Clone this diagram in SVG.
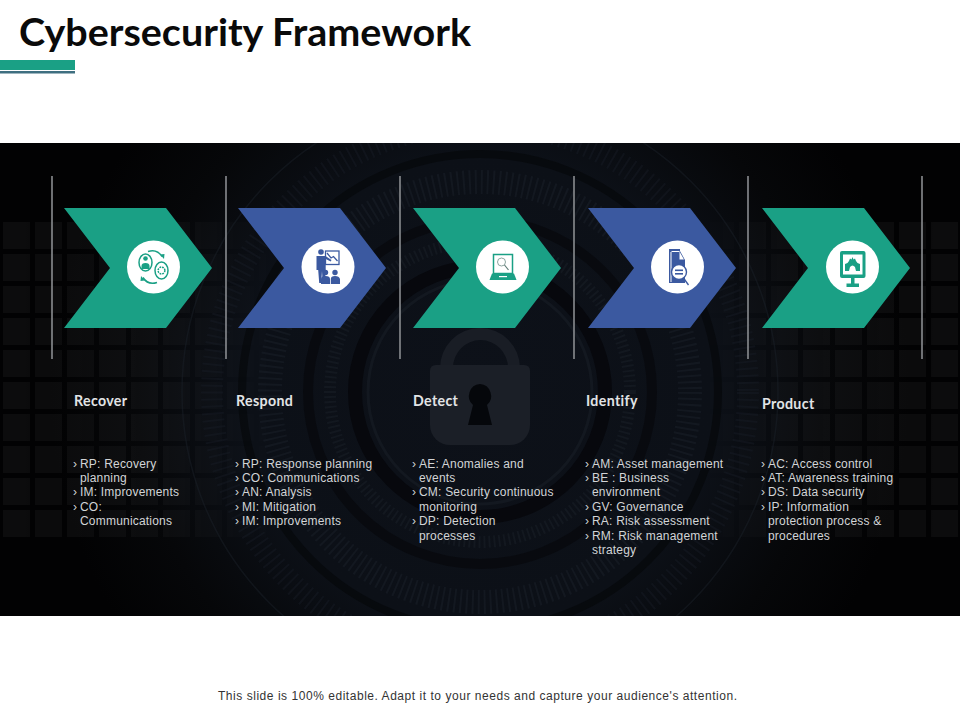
<svg xmlns="http://www.w3.org/2000/svg" width="960" height="720" viewBox="0 0 960 720">
<style>
.h{font:700 14.2px Lato,"Open Sans",sans-serif;fill:#e2e4e6;letter-spacing:.35px}
.b{font:12px "Liberation Sans",Arial,sans-serif;fill:#d2d4d6;letter-spacing:.2px}
.v{stroke:#8a8c90;stroke-width:1.6}
.g{fill:#1aa085}.n{fill:#3b59a0}.c{fill:#fff}
.ig{fill:#1aa085;stroke:none}.in{fill:#3b59a0;stroke:none}
.lg{fill:none;stroke:#1aa085;stroke-width:1.5}.ln{fill:none;stroke:#3b59a0;stroke-width:1.3}
.r{fill:none;stroke:#1a1f28}
</style>
<defs>
<radialGradient id="bg" gradientUnits="userSpaceOnUse" cx="480" cy="390" r="430">
<stop offset="0" stop-color="#0d1119"/><stop offset=".55" stop-color="#0c1017"/><stop offset=".8" stop-color="#060709"/><stop offset="1" stop-color="#020203"/>
</radialGradient>
<pattern id="grid" patternUnits="userSpaceOnUse" x="3" y="222" width="32" height="32">
<rect x="0" y="0" width="27" height="27" fill="#fff" fill-opacity=".045"/>
</pattern>
<linearGradient id="fl" x1="0" x2="1"><stop offset="0" stop-color="#fff"/><stop offset=".55" stop-color="#bbb"/><stop offset="1" stop-color="#000"/></linearGradient>
<linearGradient id="fr" x1="0" x2="1"><stop offset="0" stop-color="#000"/><stop offset=".4" stop-color="#bbb"/><stop offset="1" stop-color="#fff"/></linearGradient>
<mask id="ml"><rect x="0" y="143" width="290" height="473" fill="url(#fl)"/></mask>
<mask id="mr"><rect x="690" y="143" width="270" height="473" fill="url(#fr)"/></mask>
<clipPath id="cb"><rect x="0" y="143" width="960" height="473"/></clipPath>
<polygon id="chev" points="0,0 102,0 148,60 102,120 0,120 46,60"/>
</defs>
<rect width="960" height="720" fill="#fff"/>
<text x="19" y="46" font-family="Lato,'Open Sans',sans-serif" font-weight="700" font-size="38" fill="#0a0a0a" textLength="452" lengthAdjust="spacingAndGlyphs">Cybersecurity Framework</text>
<rect x="0" y="60" width="75" height="10" fill="#1aa085"/>
<rect x="0" y="71" width="75" height="2.5" fill="#3f6f80"/>
<g id="background" clip-path="url(#cb)">
<rect x="0" y="143" width="960" height="473" fill="url(#bg)"/>
<rect x="0" y="222" width="290" height="320" fill="url(#grid)" mask="url(#ml)"/>
<rect x="690" y="222" width="270" height="320" fill="url(#grid)" mask="url(#mr)"/>
<circle cx="480" cy="392" r="125" fill="none" stroke="#050609" stroke-width="14" opacity=".75"/>
<circle class="r" cx="480" cy="392" r="112" stroke-width="3" opacity=".5"/>
<circle class="r" cx="480" cy="392" r="150" stroke-width="12" stroke-dasharray="2 3" opacity=".5"/>
<circle cx="480" cy="392" r="172" fill="none" stroke="#06070a" stroke-width="10" opacity=".6"/>
<circle class="r" cx="480" cy="392" r="210" stroke-width="24" stroke-dasharray="2 4" opacity=".55"/>
<circle cx="480" cy="392" r="238" fill="none" stroke="#050608" stroke-width="8" opacity=".6"/>
<circle class="r" cx="480" cy="392" r="268" stroke-width="22" stroke-dasharray="2 5" opacity=".4"/>
<circle class="r" cx="480" cy="392" r="298" stroke-width="1.5" opacity=".5"/>
<g id="lock">
<path d="M440 370V368a40 40 0 0 1 80 0V370H508V368a27.500 28 0 0 0-55 0V370Z" fill="#191d25"/>
<path d="M436 365H524q6 0 6 6V425a20 20 0 0 1-20 20H450a20 20 0 0 1-20-20V371q0-6 6-6Z" fill="#1b1f27"/>
<path d="M480 384a12 12 0 0 1 7 21l5 20H468l5-20a12 12 0 0 1 7-21Z" fill="#05070b"/>
</g>
</g>
<g id="connectors">
<line class="v" x1="52" y1="176" x2="52" y2="359"/>
<line class="v" x1="226" y1="176" x2="226" y2="359"/>
<line class="v" x1="400" y1="176" x2="400" y2="359"/>
<line class="v" x1="574" y1="176" x2="574" y2="359"/>
<line class="v" x1="748" y1="176" x2="748" y2="359"/>
<line class="v" x1="922" y1="176" x2="922" y2="359"/>
</g>
<g id="node-recover">
<use href="#chev" x="64" y="208" class="g"/>
<circle class="c" cx="153.500" cy="267" r="26.500"/>
<ellipse class="lg" cx="145.500" cy="262.500" rx="6.500" ry="8.500" stroke-width="1.300"/>
<circle class="ig" cx="145.500" cy="258.500" r="2.300"/>
<path class="ig" d="M141.500 269v-3q0-3 4-3t4 3v3Z"/>
<ellipse class="lg" cx="161.500" cy="270.500" rx="6.500" ry="8.500" stroke-width="1.300"/>
<circle class="lg" cx="161.500" cy="270.500" r="3.400" stroke-dasharray="1.800 .9" stroke-width="2.600"/>
<path class="lg" d="M148 251.500q9-3 14 5M157 282.500q-9 3-14-5"/>
<path class="ig" d="M160 254.500l4.500-.5-.5 5ZM145 280.500l-4.500.5.500-5Z"/>
<text class="h" x="74" y="406">Recover</text>
<text class="b" y="468"><tspan x="73">›</tspan><tspan x="80">RP: Recovery</tspan></text>
<text class="b" x="80" y="482">planning</text>
<text class="b" y="496"><tspan x="73">›</tspan><tspan x="80">IM: Improvements</tspan></text>
<text class="b" y="511"><tspan x="73">›</tspan><tspan x="80">CO:</tspan></text>
<text class="b" x="80" y="525">Communications</text>
</g>
<g id="node-respond">
<use href="#chev" x="238" y="208" class="n"/>
<circle class="c" cx="328" cy="267" r="26.500"/>
<circle class="in" cx="321" cy="252" r="2.800"/>
<path class="in" d="M316.500 256h9l6 4-.8 1.500-5-2.500V270l-1 13h-2l-.7-12-.8 12h-2l-1-13h-1.700Z"/>
<rect class="ln" x="325.500" y="251" width="13.500" height="13.500"/>
<path class="ln" d="M327 253l4 5 2.500-1.500 4 4.500"/>
<circle class="in" cx="325.500" cy="272.500" r="2.700"/><circle class="in" cx="335" cy="272.500" r="2.700"/>
<path class="in" d="M321 284v-5q0-3 4.500-3t4.500 3v5ZM330.800 284v-5q0-3 4.200-3t5 3v5Z"/>
<text class="h" x="236" y="406">Respond</text>
<text class="b" y="468"><tspan x="235">›</tspan><tspan x="242">RP: Response planning</tspan></text>
<text class="b" y="482"><tspan x="235">›</tspan><tspan x="242">CO: Communications</tspan></text>
<text class="b" y="496"><tspan x="235">›</tspan><tspan x="242">AN: Analysis</tspan></text>
<text class="b" y="511"><tspan x="235">›</tspan><tspan x="242">MI: Mitigation</tspan></text>
<text class="b" y="525"><tspan x="235">›</tspan><tspan x="242">IM: Improvements</tspan></text>
</g>
<g id="node-detect">
<use href="#chev" x="413" y="208" class="g"/>
<circle class="c" cx="502.500" cy="267" r="26.500"/>
<rect class="lg" x="493.500" y="254.500" width="19" height="19"/>
<circle cx="501.500" cy="262" r="4" fill="none" stroke="#7f9a95" stroke-width=".9"/>
<path d="M504.500 265l4 5" fill="none" stroke="#5d7a75" stroke-width="1.200"/>
<path class="ig" d="M492 273.500h22l2.500 6.500h-27Z"/>
<rect x="499" y="276" width="8" height="1.200" class="c"/>
<text class="h" x="413" y="406">Detect</text>
<text class="b" y="468"><tspan x="412">›</tspan><tspan x="419">AE: Anomalies and</tspan></text>
<text class="b" x="419" y="482">events</text>
<text class="b" y="496"><tspan x="412">›</tspan><tspan x="419">CM: Security continuous</tspan></text>
<text class="b" x="419" y="511">monitoring</text>
<text class="b" y="525"><tspan x="412">›</tspan><tspan x="419">DP: Detection</tspan></text>
<text class="b" x="419" y="540">processes</text>
</g>
<g id="node-identify">
<use href="#chev" x="588" y="208" class="n"/>
<circle class="c" cx="677.500" cy="267" r="26.500"/>
<path class="in" d="M669 249H685V283H669Z"/>
<path class="c" d="M680 251l5 9v-11h-5ZM670.500 251v31h1V251ZM670.500 251h9v1h-9Z"/>
<path class="c" d="M679.500 251.500l4.500 8h-4.500Z"/>
<circle cx="679" cy="272" r="7.500" fill="#fff" stroke="#3b59a0" stroke-width="1.400"/>
<rect class="in" x="675" y="269.500" width="8" height="1.600"/><rect class="in" x="675" y="273" width="8" height="1.600"/>
<path class="ln" d="M683.500 278l5 7"/>
<text class="h" x="586" y="406">Identify</text>
<text class="b" y="468"><tspan x="585">›</tspan><tspan x="592">AM: Asset management</tspan></text>
<text class="b" y="482"><tspan x="585">›</tspan><tspan x="592">BE : Business</tspan></text>
<text class="b" x="592" y="496">environment</text>
<text class="b" y="511"><tspan x="585">›</tspan><tspan x="592">GV: Governance</tspan></text>
<text class="b" y="525"><tspan x="585">›</tspan><tspan x="592">RA: Risk assessment</tspan></text>
<text class="b" y="540"><tspan x="585">›</tspan><tspan x="592">RM: Risk management</tspan></text>
<text class="b" x="592" y="554">strategy</text>
</g>
<g id="node-product">
<use href="#chev" x="762" y="208" class="g"/>
<circle class="c" cx="852.500" cy="267" r="26.500"/>
<rect class="ig" x="840" y="251" width="25.500" height="27" rx="2"/>
<rect class="c" x="843" y="254.500" width="19.500" height="20"/>
<path class="ig" d="M845 271v-7l2.500-1 1.500-2 1-2.500 1.500 1 1-2.500 1 2.500 1.500-1 1 2.500 1.500 2 2.500 1v7h-4l-1-4q-2.500-3-5 0l-1 4Z"/>
<rect class="ig" x="851" y="278" width="3.500" height="6"/>
<rect class="ig" x="846.500" y="283.500" width="12.500" height="3.500"/>
<text class="h" x="762" y="409">Product</text>
<text class="b" y="468"><tspan x="761">›</tspan><tspan x="768">AC: Access control</tspan></text>
<text class="b" y="482"><tspan x="761">›</tspan><tspan x="768">AT: Awareness training</tspan></text>
<text class="b" y="496"><tspan x="761">›</tspan><tspan x="768">DS: Data security</tspan></text>
<text class="b" y="511"><tspan x="761">›</tspan><tspan x="768">IP: Information</tspan></text>
<text class="b" x="768" y="525">protection process &amp;</text>
<text class="b" x="768" y="540">procedures</text>
</g>
<text x="218" y="700" font-family="'Liberation Sans',Arial,sans-serif" font-size="12" fill="#333" textLength="519">This slide is 100% editable. Adapt it to your needs and capture your audience's attention.</text>
</svg>
